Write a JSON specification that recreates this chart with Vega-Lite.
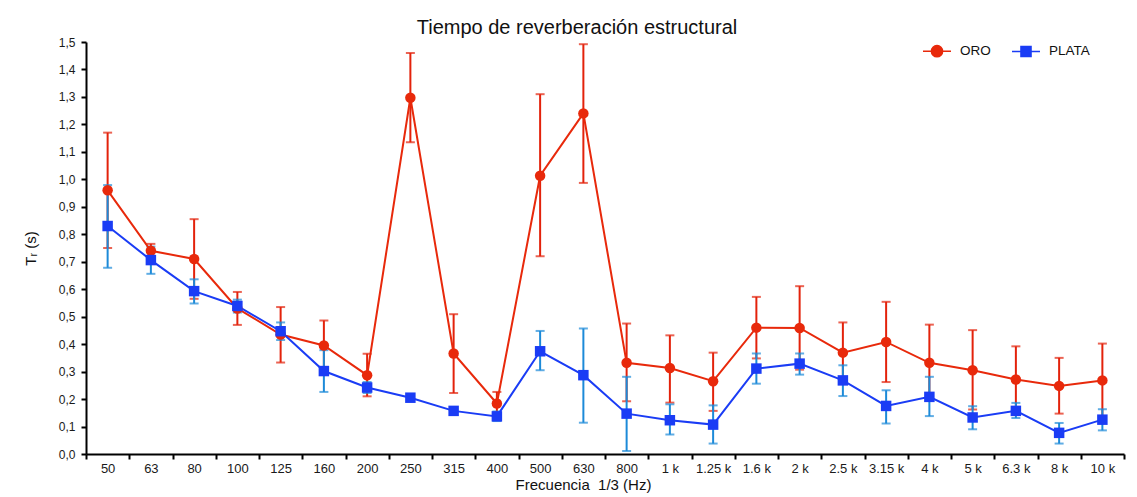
{
  "$schema": "https://vega.github.io/schema/vega-lite/v6.json",
  "width": 1038,
  "height": 412,
  "autosize": {"type": "none"},
  "padding": {"left": 86, "top": 42, "right": 13, "bottom": 43},
  "background": "white",
  "config": {
    "view": {"stroke": null},
    "font": "Liberation Sans",
    "axis": {
      "grid": false,
      "domainColor": "black",
      "domainWidth": 2,
      "tickColor": "black",
      "tickWidth": 2,
      "labelFont": "Liberation Sans",
      "labelFontSize": 13,
      "labelColor": "#1a1a1a",
      "titleFont": "Liberation Sans",
      "titleFontWeight": "normal",
      "titleFontSize": 15,
      "titleColor": "#111"
    },
    "axisY": {
      "labelOverlap": false,
      "tickCount": 30,
      "labelFontSize": 12,
      "tickSize": 5,
      "labelPadding": 6,
      "titlePadding": 20,
      "labelExpr": "replace(format(datum.value, '.1f'), '.', ',')"
    }
  },
  "title": {
    "text": "Tiempo de reverberación estructural",
    "fontSize": 20,
    "fontWeight": "normal",
    "font": "Liberation Sans",
    "color": "#111",
    "offset": -2,
    "dx": -28
  },
  "data": {
    "values": [
      {"f": "50", "serie": "ORO", "v": 0.96, "lo": 0.75, "hi": 1.17},
      {"f": "63", "serie": "ORO", "v": 0.74, "lo": 0.715, "hi": 0.765},
      {"f": "80", "serie": "ORO", "v": 0.71, "lo": 0.565, "hi": 0.855},
      {"f": "100", "serie": "ORO", "v": 0.53, "lo": 0.47, "hi": 0.59},
      {"f": "125", "serie": "ORO", "v": 0.435, "lo": 0.333, "hi": 0.535},
      {"f": "160", "serie": "ORO", "v": 0.395, "lo": 0.305, "hi": 0.486},
      {"f": "200", "serie": "ORO", "v": 0.287, "lo": 0.21, "hi": 0.365},
      {"f": "250", "serie": "ORO", "v": 1.297, "lo": 1.135, "hi": 1.46},
      {"f": "315", "serie": "ORO", "v": 0.366, "lo": 0.222, "hi": 0.509},
      {"f": "400", "serie": "ORO", "v": 0.184, "lo": 0.145, "hi": 0.226},
      {"f": "500", "serie": "ORO", "v": 1.013, "lo": 0.72, "hi": 1.31},
      {"f": "630", "serie": "ORO", "v": 1.24, "lo": 0.987, "hi": 1.492},
      {"f": "800", "serie": "ORO", "v": 0.332, "lo": 0.192, "hi": 0.475},
      {"f": "1 k", "serie": "ORO", "v": 0.313, "lo": 0.187, "hi": 0.432},
      {"f": "1.25 k", "serie": "ORO", "v": 0.265, "lo": 0.157, "hi": 0.369},
      {"f": "1.6 k", "serie": "ORO", "v": 0.46, "lo": 0.348, "hi": 0.572},
      {"f": "2 k", "serie": "ORO", "v": 0.459, "lo": 0.307, "hi": 0.611},
      {"f": "2.5 k", "serie": "ORO", "v": 0.369, "lo": 0.26, "hi": 0.479},
      {"f": "3.15 k", "serie": "ORO", "v": 0.408, "lo": 0.262, "hi": 0.554},
      {"f": "4 k", "serie": "ORO", "v": 0.332, "lo": 0.193, "hi": 0.471},
      {"f": "5 k", "serie": "ORO", "v": 0.305, "lo": 0.162, "hi": 0.451},
      {"f": "6.3 k", "serie": "ORO", "v": 0.271, "lo": 0.15, "hi": 0.392},
      {"f": "8 k", "serie": "ORO", "v": 0.248, "lo": 0.147, "hi": 0.35},
      {"f": "10 k", "serie": "ORO", "v": 0.268, "lo": 0.135, "hi": 0.402},
      {"f": "50", "serie": "PLATA", "v": 0.83, "lo": 0.678, "hi": 0.979},
      {"f": "63", "serie": "PLATA", "v": 0.706, "lo": 0.656, "hi": 0.755},
      {"f": "80", "serie": "PLATA", "v": 0.593, "lo": 0.548, "hi": 0.636},
      {"f": "100", "serie": "PLATA", "v": 0.539, "lo": 0.515, "hi": 0.562},
      {"f": "125", "serie": "PLATA", "v": 0.447, "lo": 0.415, "hi": 0.479},
      {"f": "160", "serie": "PLATA", "v": 0.302, "lo": 0.226, "hi": 0.378},
      {"f": "200", "serie": "PLATA", "v": 0.242, "lo": 0.222, "hi": 0.262},
      {"f": "250", "serie": "PLATA", "v": 0.205, "lo": 0.198, "hi": 0.212},
      {"f": "315", "serie": "PLATA", "v": 0.157, "lo": 0.152, "hi": 0.162},
      {"f": "400", "serie": "PLATA", "v": 0.137, "lo": 0.12, "hi": 0.155},
      {"f": "500", "serie": "PLATA", "v": 0.374, "lo": 0.305, "hi": 0.448},
      {"f": "630", "serie": "PLATA", "v": 0.287, "lo": 0.114, "hi": 0.457},
      {"f": "800", "serie": "PLATA", "v": 0.147, "lo": 0.011, "hi": 0.281},
      {"f": "1 k", "serie": "PLATA", "v": 0.123, "lo": 0.071, "hi": 0.181},
      {"f": "1.25 k", "serie": "PLATA", "v": 0.107, "lo": 0.038, "hi": 0.177},
      {"f": "1.6 k", "serie": "PLATA", "v": 0.311, "lo": 0.256, "hi": 0.366},
      {"f": "2 k", "serie": "PLATA", "v": 0.329, "lo": 0.289, "hi": 0.366},
      {"f": "2.5 k", "serie": "PLATA", "v": 0.268, "lo": 0.211, "hi": 0.323},
      {"f": "3.15 k", "serie": "PLATA", "v": 0.175, "lo": 0.111, "hi": 0.232},
      {"f": "4 k", "serie": "PLATA", "v": 0.208, "lo": 0.138, "hi": 0.281},
      {"f": "5 k", "serie": "PLATA", "v": 0.133, "lo": 0.09, "hi": 0.174},
      {"f": "6.3 k", "serie": "PLATA", "v": 0.157, "lo": 0.131, "hi": 0.186},
      {"f": "8 k", "serie": "PLATA", "v": 0.077, "lo": 0.038, "hi": 0.113},
      {"f": "10 k", "serie": "PLATA", "v": 0.125, "lo": 0.086, "hi": 0.163}
    ]
  },
  "encoding": {
    "x": {
      "field": "f",
      "type": "ordinal",
      "bandPosition": 0.5,
      "scale": {
        "type": "band",
        "paddingInner": 0,
        "paddingOuter": 0,
        "domain": ["50", "63", "80", "100", "125", "160", "200", "250", "315", "400", "500", "630", "800", "1 k", "1.25 k", "1.6 k", "2 k", "2.5 k", "3.15 k", "4 k", "5 k", "6.3 k", "8 k", "10 k"]
      },
      "axis": {
        "title": "Frecuencia\u00a0 1/3 (Hz)",
        "labelAngle": 0,
        "tickBand": "extent",
        "tickSize": 5,
        "labelPadding": 3,
        "titlePadding": 2,
        "titleX": 497
      }
    }
  },
  "layer": [
    {
      "transform": [{"filter": "datum.serie === 'ORO'"}],
      "mark": {"type": "rule", "color": "#e3220b", "strokeWidth": 2},
      "encoding": {
        "y": {
          "field": "lo",
          "type": "quantitative",
          "scale": {"domain": [0, 1.5], "nice": false},
          "axis": {
            "title": "Tᵣ (s)",
            "labelOverlap": false,
            "tickCount": 30,
            "values": [0, 0.1, 0.2, 0.3, 0.4, 0.5, 0.6, 0.7, 0.8, 0.9, 1.0, 1.1, 1.2, 1.3, 1.4, 1.5]
          }
        },
        "y2": {"field": "hi"}
      }
    },
    {
      "transform": [{"filter": "datum.serie === 'ORO'"}],
      "mark": {"type": "tick", "color": "#e3220b", "thickness": 2, "size": 9},
      "encoding": {"y": {"field": "lo", "type": "quantitative"}}
    },
    {
      "transform": [{"filter": "datum.serie === 'ORO'"}],
      "mark": {"type": "tick", "color": "#e3220b", "thickness": 2, "size": 9},
      "encoding": {"y": {"field": "hi", "type": "quantitative"}}
    },
    {
      "transform": [{"filter": "datum.serie === 'PLATA'"}],
      "mark": {"type": "rule", "color": "#1c8ad8", "strokeWidth": 2},
      "encoding": {
        "y": {"field": "lo", "type": "quantitative"},
        "y2": {"field": "hi"}
      }
    },
    {
      "transform": [{"filter": "datum.serie === 'PLATA'"}],
      "mark": {"type": "tick", "color": "#1c8ad8", "thickness": 2, "size": 9},
      "encoding": {"y": {"field": "lo", "type": "quantitative"}}
    },
    {
      "transform": [{"filter": "datum.serie === 'PLATA'"}],
      "mark": {"type": "tick", "color": "#1c8ad8", "thickness": 2, "size": 9},
      "encoding": {"y": {"field": "hi", "type": "quantitative"}}
    },
    {
      "mark": {"type": "line", "strokeWidth": 2},
      "encoding": {
        "y": {
          "field": "v",
          "type": "quantitative",
          "axis": {
            "title": "Tᵣ (s)",
            "labelOverlap": false,
            "tickCount": 30,
            "values": [0, 0.1, 0.2, 0.3, 0.4, 0.5, 0.6, 0.7, 0.8, 0.9, 1.0, 1.1, 1.2, 1.3, 1.4, 1.5]
          }
        },
        "color": {
          "field": "serie",
          "type": "nominal",
          "scale": {"domain": ["ORO", "PLATA"], "range": ["#e8290b", "#1a3cf5"]},
          "legend": {
            "title": null,
            "orient": "none",
            "legendX": 836,
            "legendY": -6,
            "direction": "horizontal",
            "symbolSize": 784,
            "symbolStrokeWidth": 1.5,
            "labelFontSize": 13.5,
            "labelFont": "Liberation Sans",
            "labelColor": "#111",
            "columnPadding": 18,
            "labelOffset": 8,
            "encode": {
              "symbols": {
                "update": {
                  "shape": {"signal": "datum.value === 'ORO' ? 'M-1,0L1,0M-0.4,0A0.4,0.4 0 1,1 0.4,0A0.4,0.4 0 1,1 -0.4,0Z' : 'M-1,0L1,0M-0.36,-0.36L0.36,-0.36L0.36,0.36L-0.36,0.36Z'"},
                  "fill": {"signal": "datum.value === 'ORO' ? '#e8290b' : '#1a3cf5'"},
                  "stroke": {"signal": "datum.value === 'ORO' ? '#e8290b' : '#1a3cf5'"},
                  "strokeWidth": {"value": 1.5},
                  "opacity": {"value": 1}
                }
              }
            }
          }
        }
      }
    },
    {
      "transform": [{"filter": "datum.serie === 'ORO'"}],
      "mark": {"type": "point", "shape": "circle", "filled": true, "opacity": 1, "size": 110, "color": "#e8290b"},
      "encoding": {"y": {"field": "v", "type": "quantitative"}}
    },
    {
      "transform": [{"filter": "datum.serie === 'PLATA'"}],
      "mark": {"type": "point", "shape": "square", "filled": true, "opacity": 1, "size": 110, "color": "#1a3cf5"},
      "encoding": {"y": {"field": "v", "type": "quantitative"}}
    }
  ]
}
